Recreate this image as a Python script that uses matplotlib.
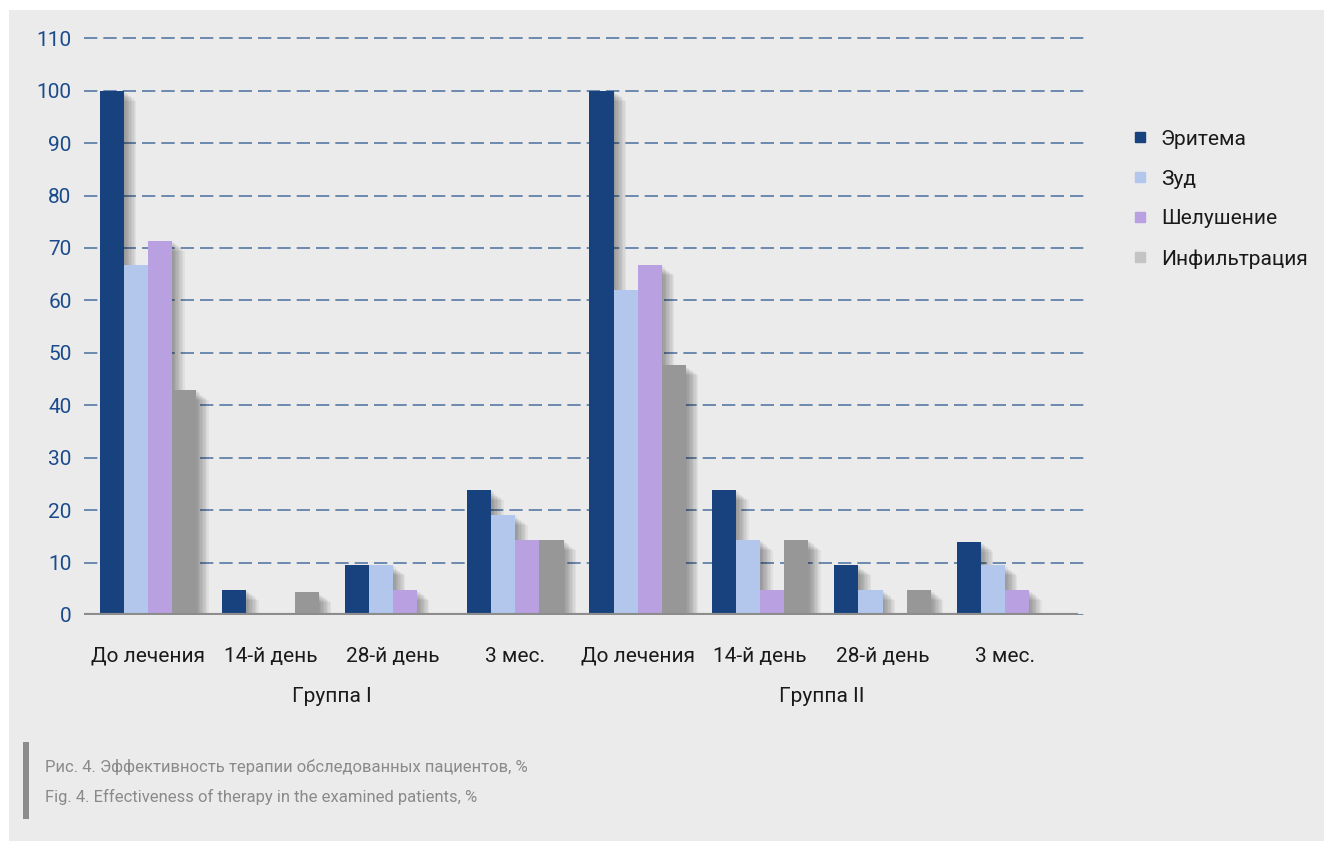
import numpy as np
import matplotlib
matplotlib.use("Agg")
from matplotlib import pyplot as plt
from matplotlib import patheffects as pe
from matplotlib.lines import Line2D
from matplotlib.patches import Rectangle

plt.rcParams['font.family'] = ['Roboto', 'DejaVu Sans']

# Share of patients (%) with each symptom at every visit
periods = ["До лечения", "14-й день", "28-й день", "3 мес."]
groups = ["Группа I", "Группа II"]
symptoms = ["Эритема", "Зуд", "Шелушение", "Инфильтрация"]

erythema = [100, 4.8, 9.5, 23.8, 100, 23.8, 9.5, 14.0]
itching = [66.7, 0, 9.5, 19.0, 61.9, 14.3, 4.8, 9.5]
peeling = [71.4, 0, 4.8, 14.3, 66.7, 4.8, 0, 4.8]
infiltration = [42.9, 4.3, 0, 14.3, 47.6, 14.3, 4.8, 0]

bar_colors = ["#17427e", "#b2c7eb", "#b9a1e1", "#979797"]
legend_colors = ["#17427e", "#b2c7eb", "#b9a1e1", "#c4c4c4"]

fig = plt.figure(figsize=(13.24, 8.41), dpi=100)
fig.patch.set_facecolor("white")
# grey panel behind everything
fig.patches.append(Rectangle((9 / 1324, 0), 1, 1 - 10 / 841, transform=fig.transFigure,
                             facecolor="#ebebeb", edgecolor="none", zorder=-10))

ax = fig.add_axes([84 / 1324, (841 - 615) / 841, (1087 - 84) / 1324, 582 / 841])
ax.set_facecolor("none")

x = np.arange(len(periods) * len(groups))
w = 0.197
series = [erythema, itching, peeling, infiltration]

# soft drop shadow made of several faint offset copies
shadow = [pe.SimplePatchShadow(offset=(d, -d * 0.8), shadow_rgbFace="black", alpha=0.045)
          for d in range(1, 10)]
shadow.append(pe.Normal())

for i, vals in enumerate(series):
    ax.bar(x + (i - 1.5) * w, vals, width=w, color=bar_colors[i], zorder=3 + i * 0.1,
           path_effects=shadow)

ax.set_ylim(0, 111)
ax.set_xlim(-0.523, 7.67)
ax.set_yticks(np.arange(0, 111, 10))
ax.yaxis.grid(True, color="#3d6699", linestyle=(0, (8, 3.6)), linewidth=1.2, alpha=0.85)
ax.set_axisbelow(True)
for s in ax.spines.values():
    s.set_visible(False)
ax.axhline(0, xmin=0, xmax=(7.58 + 0.523) / (7.67 + 0.523), color="#8c8c8c", linewidth=3, zorder=5)

ax.tick_params(axis="y", length=0, labelsize=15, labelcolor="#1b4b8c", pad=9)
ax.set_xticks(x)
ax.set_xticklabels(periods * len(groups))
ax.tick_params(axis="x", length=0, labelsize=15, labelcolor="#1a1a1a", pad=23)

for g, name in enumerate(groups):
    ax.text(g * 4 + 1.5, -0.14, name, transform=ax.get_xaxis_transform(),
            ha="center", va="center", fontsize=15, color="#1a1a1a")

handles = [Line2D([], [], linestyle="none", marker="s", markersize=7,
                  markerfacecolor=c, markeredgecolor=c) for c in legend_colors]
fig.legend(handles, symptoms, loc="upper left", bbox_to_anchor=(1113 / 1324, 1 - 111 / 841),
           frameon=False, fontsize=15, handlelength=0.8, handletextpad=0.6, labelspacing=1.0,
           labelcolor="#1a1a1a")

# caption block
fig.patches.append(Rectangle((23 / 1324, 1 - 819 / 841), 6 / 1324, 77 / 841, transform=fig.transFigure,
                             facecolor="#8c8c8c", edgecolor="none"))
fig.text(45 / 1324, 1 - 767 / 841, "Рис. 4. Эффективность терапии обследованных пациентов, %",
         fontsize=12, color="#8a8a8a", va="center")
fig.text(45 / 1324, 1 - 797 / 841, "Fig. 4. Effectiveness of therapy in the examined patients, %",
         fontsize=12, color="#8a8a8a", va="center")

fig.savefig("out.png", dpi=100, facecolor=fig.get_facecolor())
